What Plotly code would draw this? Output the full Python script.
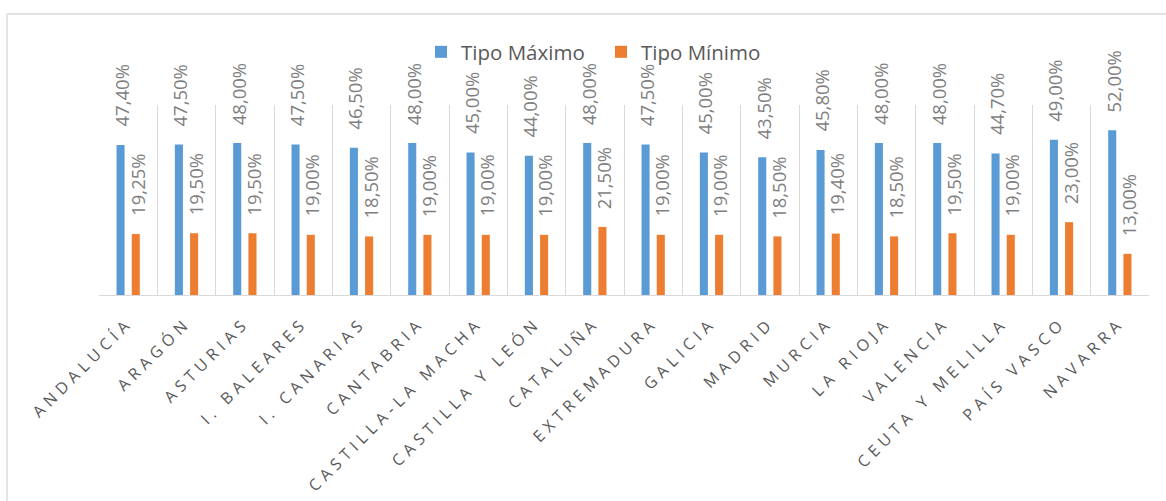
import plotly.graph_objects as go

categories = ["ANDALUCÍA", "ARAGÓN", "ASTURIAS", "I. BALEARES", "I. CANARIAS", "CANTABRIA",
              "CASTILLA-LA MACHA", "CASTILLA Y LEÓN", "CATALUÑA", "EXTREMADURA", "GALICIA",
              "MADRID", "MURCIA", "LA RIOJA", "VALENCIA", "CEUTA Y MELILLA", "PAÍS VASCO", "NAVARRA"]
tipo_maximo = [47.40, 47.50, 48.00, 47.50, 46.50, 48.00, 45.00, 44.00, 48.00, 47.50, 45.00,
               43.50, 45.80, 48.00, 48.00, 44.70, 49.00, 52.00]
tipo_minimo = [19.25, 19.50, 19.50, 19.00, 18.50, 19.00, 19.00, 19.00, 21.50, 19.00, 19.00,
               18.50, 19.40, 18.50, 19.50, 19.00, 23.00, 13.00]
series_names = ["Tipo Máximo", "Tipo Mínimo"]

BLUE = "#5b9bd5"
ORANGE = "#ed7d31"
FONT = "Open Sans"

def fmt(v):
    return f"{v:.2f}".replace(".", ",") + "%"

fig = go.Figure()
fig.add_trace(go.Bar(x=categories, y=tipo_maximo, name=series_names[0],
                     marker=dict(color=BLUE, line=dict(width=0))))
fig.add_trace(go.Bar(x=categories, y=tipo_minimo, name=series_names[1],
                     marker=dict(color=ORANGE, line=dict(width=0))))

annotations = []
for vals, shift in ((tipo_maximo, -7.6), (tipo_minimo, 7.6)):
    for c, v in zip(categories, vals):
        annotations.append(dict(x=c, y=v, xref="x", yref="y", text=fmt(v), showarrow=False,
                                textangle=-90, xanchor="center", yanchor="bottom",
                                xshift=shift + 1, yshift=16,
                                font=dict(family=FONT, size=18.5, color="#7f7f7f")))

L, R, T, B = 99, 17, 105, 206
W, H = 1166, 501
pw, ph = W - L - R, H - T - B

fig.update_layout(
    width=W, height=H,
    margin=dict(l=L, r=R, t=T, b=B, pad=0),
    paper_bgcolor="white", plot_bgcolor="white",
    barmode="group", bargap=0.478, bargroupgap=0.47,
    showlegend=True,
    legend=dict(orientation="h", x=(421 - L) / pw, xanchor="left",
                y=(H - B - 52) / ph, yanchor="middle",
                entrywidth=135, entrywidthmode="pixels",
                font=dict(family=FONT, size=20.5, color="#595959"),
                bgcolor="rgba(0,0,0,0)", itemclick=False),
    annotations=annotations,
    shapes=[dict(type="rect", xref="paper", yref="paper",
                 x0=(7 - L) / pw, x1=(W + 20 - L) / pw,
                 y0=-(B + 20) / ph, y1=(H - B - 14) / ph,
                 line=dict(color="#d9d9d9", width=1.3), fillcolor="rgba(0,0,0,0)", layer="below")],
    xaxis=dict(type="category", tickson="boundaries", showgrid=True, gridcolor="#d9d9d9",
               gridwidth=1, showline=True, linecolor="#d9d9d9", linewidth=1.3,
               ticks="", tickangle=-45, ticklabelstandoff=11,
               tickfont=dict(family=FONT, size=16, color="#595959"),
               range=[-0.5, len(categories) - 0.5], fixedrange=True),
    yaxis=dict(visible=False, range=[0, 60], showgrid=False, zeroline=False, fixedrange=True),
    font=dict(family=FONT),
)

post = """
var gd = document.getElementById('{plot_id}');
function ls(){
  document.querySelectorAll('.xtick text').forEach(function(t){ t.style.letterSpacing = '5px'; });
}
ls();
gd.on('plotly_afterplot', ls);
"""

fig.write_html("out.html", post_script=post, config=dict(displayModeBar=False))
